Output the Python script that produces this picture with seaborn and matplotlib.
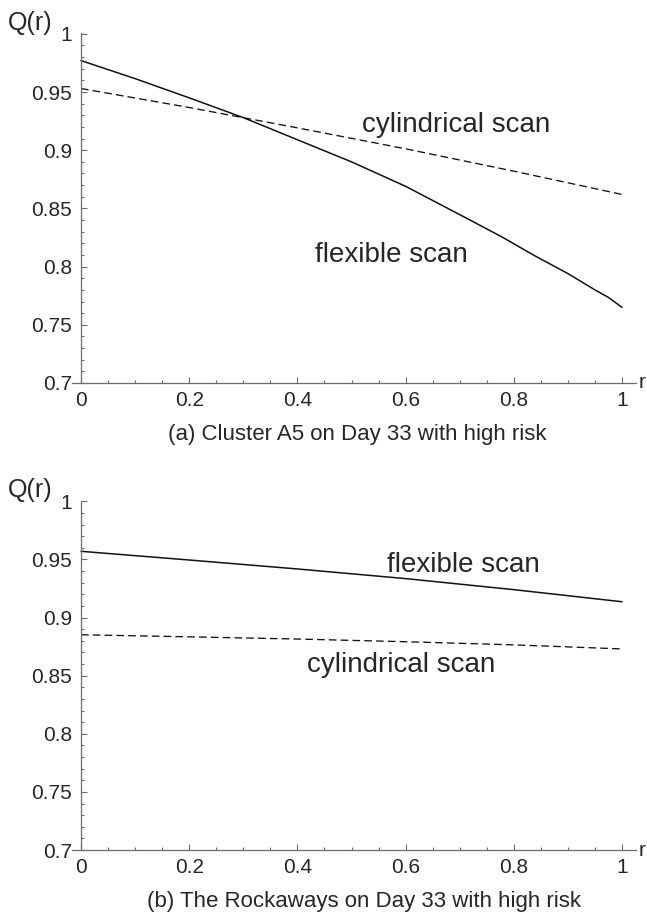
import matplotlib
matplotlib.use("Agg")
import matplotlib.pyplot as plt
import seaborn as sns
import numpy as np
from matplotlib.ticker import FixedLocator, MultipleLocator

# ---------------- data ----------------
r_top_flex = [0.0, 0.1, 0.2, 0.3, 0.4, 0.5, 0.6, 0.715, 0.78, 0.836, 0.9, 0.95, 0.975, 1.0]
q_top_flex = [0.977, 0.9615, 0.945, 0.928, 0.909, 0.890, 0.869, 0.841, 0.825, 0.810, 0.794, 0.780, 0.7735, 0.765]
r_top_cyl = [0.0, 0.2, 0.4, 0.6, 0.8, 1.0]
q_top_cyl = [0.953, 0.9367, 0.9192, 0.9012, 0.8820, 0.862]

r_bot_flex = [0.0, 0.2, 0.4, 0.6, 0.8, 1.0]
q_bot_flex = [0.957, 0.9495, 0.9418, 0.9335, 0.9240, 0.9136]
r_bot_cyl = [0.0, 0.2, 0.4, 0.6, 0.8, 1.0]
q_bot_cyl = [0.8852, 0.8834, 0.8815, 0.8792, 0.8765, 0.8730]

x_ticks = [0, 0.2, 0.4, 0.6, 0.8, 1.0]
x_labels = ["0", "0.2", "0.4", "0.6", "0.8", "1"]
y_ticks = [0.7, 0.75, 0.8, 0.85, 0.9, 0.95, 1.0]
y_labels = ["0.7", "0.75", "0.8", "0.85", "0.9", "0.95", "1"]

captions = ["(a) Cluster A5 on Day 33 with high risk",
            "(b) The Rockaways on Day 33 with high risk"]

# ---------------- style ----------------
sns.set_style("white")
plt.rcParams['font.family'] = ['Liberation Sans', 'DejaVu Sans']
plt.rcParams['lines.scale_dashes'] = False

TXT = "#262626"
AX = "#6b6b6b"

fig = plt.figure(figsize=(6.47, 9.13), dpi=100)

W, H = 647.0, 913.0
left = 72 / W
width = (636 - 72) / W

def make_axes(top_px, bottom_px):
    return fig.add_axes([left, 1 - bottom_px / H, width, (bottom_px - top_px) / H])

ax1 = make_axes(33, 383)
ax2 = make_axes(33.5 + 467, 383 + 467)

panels = [
    (ax1, r_top_flex, q_top_flex, r_top_cyl, q_top_cyl,
     [("cylindrical scan", 0.519, 0.9156), ("flexible scan", 0.432, 0.8042)]),
    (ax2, r_bot_flex, q_bot_flex, r_bot_cyl, q_bot_cyl,
     [("flexible scan", 0.565, 0.9388), ("cylindrical scan", 0.417, 0.8534)]),
]

for ax, rf, qf, rc, qc, notes in panels:
    sns.lineplot(x=rf, y=qf, ax=ax, color="#111111", lw=1.1)
    sns.lineplot(x=rc, y=qc, ax=ax, color="#111111", lw=0.95,
                 dashes=False, linestyle=(0, (5.5, 3.0)))
    ax.set_xlim(-9 / 541, 1 + 14 / 541)
    ax.set_ylim(0.7, 1.0007)
    for s in ["top", "right"]:
        ax.spines[s].set_visible(False)
    ax.spines["left"].set_position(("data", 0))
    ax.spines["left"].set_bounds(0.7, 1.0007)
    ax.spines["bottom"].set_position(("data", 0.7))
    for s in ["left", "bottom"]:
        ax.spines[s].set_color(AX)
        ax.spines[s].set_linewidth(0.9)
    ax.xaxis.set_major_locator(FixedLocator(x_ticks))
    ax.set_xticklabels(x_labels)
    ax.xaxis.set_minor_locator(FixedLocator([v for v in np.arange(0.05, 1.0, 0.05)
                                             if abs(v / 0.2 - round(v / 0.2)) > 1e-6]))
    ax.yaxis.set_major_locator(FixedLocator(y_ticks))
    ax.set_yticklabels(y_labels)
    ax.yaxis.set_minor_locator(FixedLocator([v for v in np.arange(0.71, 1.0, 0.01)
                                             if abs(v / 0.05 - round(v / 0.05)) > 1e-6]))
    ax.tick_params(which="both", direction="in", color=AX, width=0.8,
                   labelcolor=TXT, labelsize=15, bottom=True, left=True,
                   top=False, right=False)
    ax.tick_params(which="major", length=4)
    ax.tick_params(which="minor", length=2.2)
    ax.tick_params(axis="y", which="major", pad=6.5)
    ax.tick_params(axis="x", which="major", pad=6)
    ax.set_xlabel("")
    ax.set_ylabel("")
    ax.patch.set_alpha(0)
    for txt, x, y in notes:
        ax.text(x, y, txt, fontsize=20, color=TXT, ha="left", va="baseline")
    ax.text(1 + 17 / 541, 0.7, "r", fontsize=15, color=TXT, ha="left", va="center")

fig.text(30 / W, 1 - 23 / H, "Q(r)", fontsize=18, color=TXT, ha="center", va="center")
fig.text(30 / W, 1 - 490 / H, "Q(r)", fontsize=18, color=TXT, ha="center", va="center")
fig.text(357 / W, 1 - 434 / H, captions[0], fontsize=16, color=TXT, ha="center", va="center")
fig.text(364 / W, 1 - 901 / H, captions[1], fontsize=16, color=TXT, ha="center", va="center")

fig.savefig("out.png", dpi=100)
